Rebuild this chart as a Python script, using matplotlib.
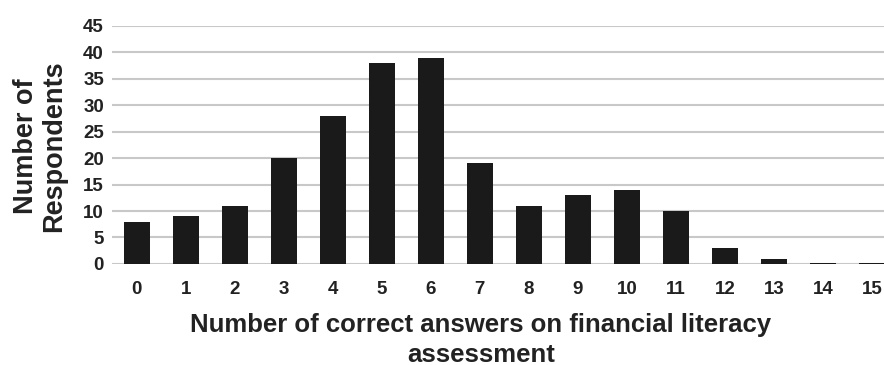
import matplotlib.pyplot as plt

# Data
answers = list(range(16))
respondents = [8, 9, 11, 20, 28, 38, 39, 19, 11, 13, 14, 10, 3, 1, 0.2, 0.2]
y_ticks = [0, 5, 10, 15, 20, 25, 30, 35, 40, 45]

plt.rcParams['font.family'] = ['Liberation Sans', 'DejaVu Sans']
plt.rcParams['font.weight'] = 'bold'

fig = plt.figure(figsize=(8.84, 3.65), dpi=100)
ax = fig.add_axes([0.127, 0.277, 0.873, 0.652])

ax.bar(answers, respondents, width=0.53, color='#1a1a1a', zorder=3)

ax.set_xlim(-0.5, 15.25)
ax.set_ylim(0, 45)
ax.set_yticks(y_ticks)
ax.set_xticks(answers)
ax.set_xticklabels([str(a) for a in answers])
ax.yaxis.grid(True, color='#c8c8c8', linewidth=1.5, zorder=0)
ax.set_axisbelow(True)
for s in ax.spines.values():
    s.set_visible(False)
ax.tick_params(axis='both', length=0, labelsize=13.5, colors='#222222')
ax.tick_params(axis='x', pad=12)
ax.tick_params(axis='y', pad=6)
for lbl in ax.get_xticklabels() + ax.get_yticklabels():
    lbl.set_fontweight('bold')

fig.text(0.544, 0.091, 'Number of correct answers on financial literacy',
         ha='center', va='baseline', fontsize=18.5, fontweight='bold', color='#222222')
fig.text(0.544, 0.009, 'assessment',
         ha='center', va='baseline', fontsize=18.5, fontweight='bold', color='#222222')
fig.text(0.045, 0.6, 'Number of\nRespondents', rotation=90, ha='center', va='center',
         fontsize=19.5, fontweight='bold', color='#222222', linespacing=1.1)

fig.savefig('out.png', dpi=100)
